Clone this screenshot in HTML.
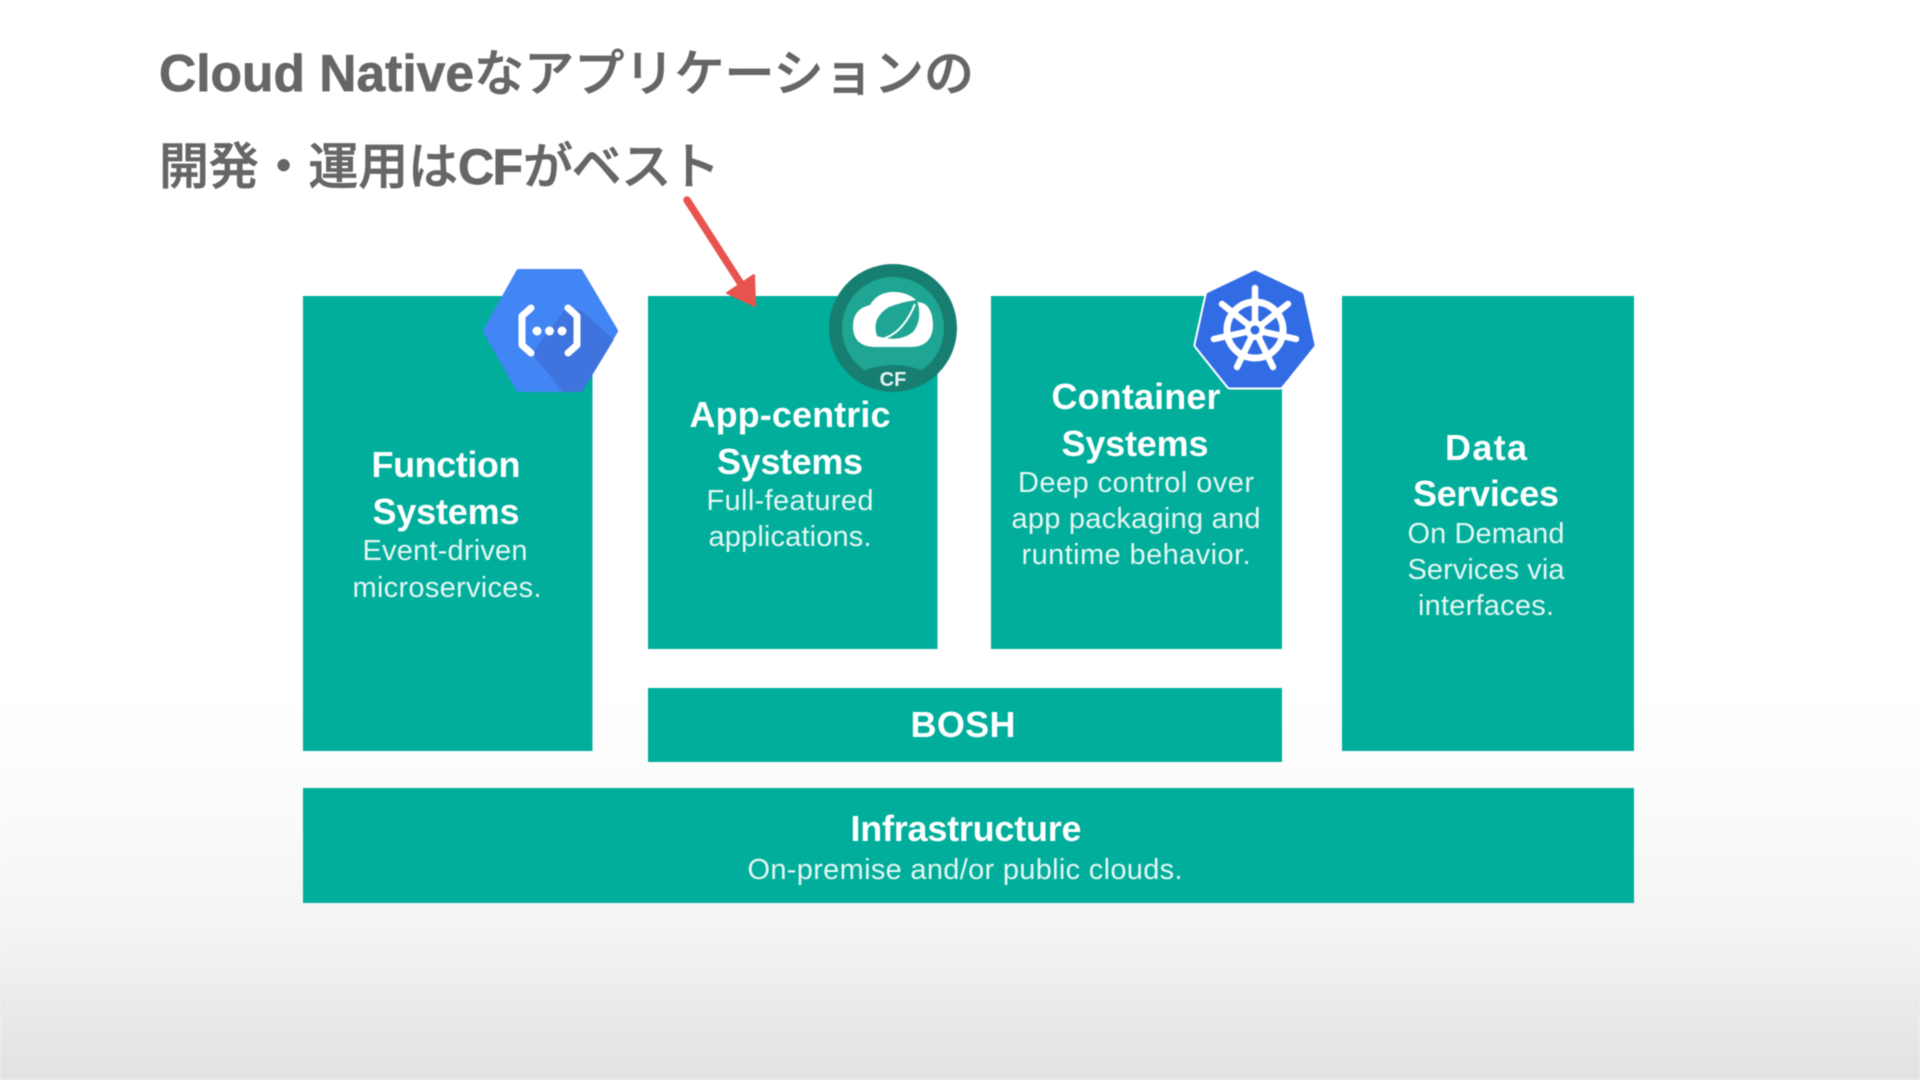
<!DOCTYPE html>
<html lang="ja">
<head>
<meta charset="utf-8">
<title>Cloud Native</title>
<style>
html,body{margin:0;padding:0;width:1920px;height:1080px;overflow:hidden;background:#fff}
svg{display:block;position:absolute;left:0;top:0;filter:blur(.4px)}
.t{font-family:"Liberation Sans","Noto Sans CJK JP",sans-serif;fill:#666;stroke:#666;stroke-width:.7px}
.h{font-family:"Liberation Sans",sans-serif;font-weight:700;font-size:36px;fill:#fff;text-anchor:middle}
.s{font-family:"Liberation Sans",sans-serif;font-size:29px;fill:#e6f6f3;text-anchor:middle}
</style>
</head>
<body>
<svg width="1920" height="1080" viewBox="0 0 1920 1080" xmlns="http://www.w3.org/2000/svg">
<defs>
<linearGradient id="bg" x1="0" y1="0" x2="0" y2="1">
<stop offset="0" stop-color="#fff"/>
<stop offset=".3" stop-color="#fbfbfb"/>
<stop offset=".6" stop-color="#f4f4f4"/>
<stop offset="1" stop-color="#e2e2e2"/>
</linearGradient>
<clipPath id="hex"><polygon points="482,331 517,269 582,269 619,331 582,392 517,392"/></clipPath>
<clipPath id="sp"><circle cx="893" cy="328" r="51"/></clipPath>
</defs>
<rect width="1920" height="1080" fill="#fff"/>
<rect y="700" width="1920" height="380" fill="url(#bg)"/>

<!-- title -->
<text class="t" x="159" y="91" font-size="51.5" font-weight="700" textLength="315">Cloud Native</text>
<text class="t" x="474" y="91" font-size="50" font-weight="500" textLength="500">なアプリケーションの</text>
<text class="t" x="159" y="184" font-size="50" font-weight="500" textLength="299">開発・運用は</text>
<text class="t" x="458" y="184" font-size="50" font-weight="700" textLength="65">CF</text>
<text class="t" x="523" y="184" font-size="50" font-weight="500" textLength="197">がベスト</text>

<!-- boxes -->
<g fill="#00ae9b">
<rect x="303" y="296" width="289.5" height="455"/>
<rect x="648" y="296" width="289.5" height="353"/>
<rect x="991" y="296" width="291" height="353"/>
<rect x="1342" y="296" width="292" height="455"/>
<rect x="648" y="688" width="634" height="74"/>
<rect x="303" y="788" width="1331" height="115"/>
</g>

<!-- text -->
<text class="h" x="446" y="477" textLength="149">Function</text>
<text class="h" x="446" y="524" textLength="147">Systems</text>
<text class="s" x="445" y="560" textLength="165">Event-driven</text>
<text class="s" x="447" y="597" textLength="189">microservices.</text>

<text class="h" x="790" y="427" textLength="201">App-centric</text>
<text class="h" x="790" y="474" textLength="146">Systems</text>
<text class="s" x="790" y="510" textLength="167">Full-featured</text>
<text class="s" x="790" y="546" textLength="163">applications.</text>

<text class="h" x="1136" y="409" textLength="169">Container</text>
<text class="h" x="1135" y="456" textLength="147">Systems</text>
<text class="s" x="1136" y="492" textLength="236">Deep control over</text>
<text class="s" x="1136" y="528" textLength="249">app packaging and</text>
<text class="s" x="1136" y="564" textLength="229">runtime behavior.</text>

<text class="h" x="1486" y="460" textLength="82">Data</text>
<text class="h" x="1486" y="506" textLength="146">Services</text>
<text class="s" x="1486" y="543" textLength="157">On Demand</text>
<text class="s" x="1486" y="579" textLength="157">Services via</text>
<text class="s" x="1486" y="615" textLength="136">interfaces.</text>

<text class="h" x="963" y="737" textLength="105">BOSH</text>
<text class="h" x="966" y="841" textLength="231">Infrastructure</text>
<text class="s" x="965" y="879" textLength="435">On-premise and/or public clouds.</text>

<!-- function icon -->
<polygon points="486,331 519,272 580,272 615,331 580,389 519,389" fill="#4285f4" stroke="#4285f4" stroke-width="6" stroke-linejoin="round"/>
<polygon clip-path="url(#hex)" points="532,353 567,307 582,311 625,350 600,400 565,395" fill="#3f73de"/>
<g fill="none" stroke="#fff" stroke-width="7" stroke-linejoin="round" stroke-linecap="round">
<polyline points="531,308 522,316 522,345 531,353"/>
<polyline points="568,308 577,316 577,345 568,353"/>
</g>
<g fill="#fff"><circle cx="537" cy="331" r="4.5"/><circle cx="549.5" cy="331" r="4.5"/><circle cx="562" cy="331" r="4.5"/></g>

<!-- spring cf icon -->
<circle cx="893" cy="328" r="64" fill="#167f72"/>
<circle cx="893" cy="328" r="51" fill="#1fa593"/>
<path clip-path="url(#sp)" d="M845,380 Q893,350 941,380 V400 H845 Z" fill="#167f72"/>
<path d="M876,347 q-23,0 -23,-21 q0,-17 17,-21 q8,-14 26,-13 q14,1 22,10 q14,1 15,22 q0,23 -23,23 Z" fill="#fff"/>
<path d="M877,336 q-6,-18 12,-29 q16,-6 28,-7 q6,20 -4,32 q-14,11 -36,4 Z" fill="#1fa593"/>
<path d="M878,340 q24,-4 37,-36" fill="none" stroke="#fff" stroke-width="2"/>
<text x="893" y="386" text-anchor="middle" font-family="Liberation Sans,sans-serif" font-size="20" font-weight="700" fill="#e6f3f1">CF</text>

<!-- arrow -->
<line x1="687" y1="200" x2="743" y2="287" stroke="#e8534f" stroke-width="7.5" stroke-linecap="round"/>
<polygon points="755,306 727,293 754,275" fill="#e8534f" stroke="#e8534f" stroke-width="2" stroke-linejoin="round"/>

<!-- kubernetes icon -->
<polygon points="1255,273 1301,295 1312,345 1280,385 1230,385 1198,345 1209,295" fill="#326ce5" stroke="#fff" stroke-width="9" stroke-linejoin="round"/>
<polygon points="1255,273 1301,295 1312,345 1280,385 1230,385 1198,345 1209,295" fill="#326ce5" stroke="#326ce5" stroke-width="5" stroke-linejoin="round"/>
<g stroke="#fff" stroke-linecap="round" fill="none">
<circle cx="1255" cy="330" r="28" stroke-width="7"/>
<g stroke-width="6.5">
<line x1="1255" y1="330" x2="1255" y2="288"/>
<line x1="1255" y1="330" x2="1222" y2="304"/>
<line x1="1255" y1="330" x2="1288" y2="304"/>
<line x1="1255" y1="330" x2="1214" y2="339"/>
<line x1="1255" y1="330" x2="1296" y2="339"/>
<line x1="1255" y1="330" x2="1237" y2="367"/>
<line x1="1255" y1="330" x2="1273" y2="367"/>
</g>
</g>
<circle cx="1255" cy="330" r="10" fill="#fff"/>
<circle cx="1255" cy="330" r="4.5" fill="#326ce5"/>
</svg>
</body>
</html>
